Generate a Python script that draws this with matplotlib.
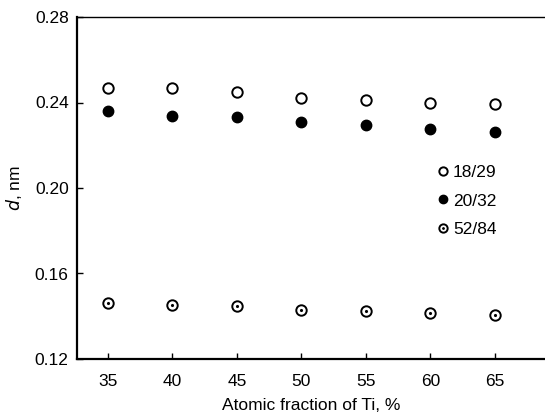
import matplotlib.pyplot as plt
from matplotlib.legend_handler import HandlerTuple

ti_fraction = [35, 40, 45, 50, 55, 60, 65]
d_18_29 = [0.2470, 0.2466, 0.2447, 0.2423, 0.2414, 0.2400, 0.2395]
d_20_32 = [0.2358, 0.2335, 0.2330, 0.2311, 0.2297, 0.2278, 0.2264]
d_52_84 = [0.1462, 0.1453, 0.1448, 0.1429, 0.1425, 0.1415, 0.1406]

x_ticks = [35, 40, 45, 50, 55, 60, 65]
y_ticks = [0.12, 0.16, 0.20, 0.24, 0.28]

plt.rcParams["font.family"] = ["Liberation Sans", "DejaVu Sans"]

fig = plt.figure(figsize=(5.45, 4.12), dpi=100)
ax = fig.add_axes([77 / 545, 1 - 359 / 412, 1 - 77 / 545, (359 - 17) / 412])

ms = 7.5
h1, = ax.plot(ti_fraction, d_18_29, "o", ls="none", mfc="white", mec="black", mew=1.4,
              ms=ms)
h2, = ax.plot(ti_fraction, d_20_32, "o", ls="none", mfc="black", mec="black", ms=ms)
h3, = ax.plot(ti_fraction, d_52_84, "o", ls="none", mfc="white", mec="black", mew=1.4,
              ms=ms)
# centre dots for the 52/84 series
h3d, = ax.plot(ti_fraction, d_52_84, ".", ls="none", color="black", ms=2.5)

ax.set_xlim(32.6, 68.9)
ax.set_ylim(0.12, 0.28)
ax.set_xticks(x_ticks)
ax.set_yticks(y_ticks)
ax.set_yticklabels([f"{v:.2f}" for v in y_ticks])
ax.tick_params(direction="in", length=4, width=1, labelsize=12.5, colors="black")
ax.tick_params(axis="x", pad=11)
ax.tick_params(axis="y", pad=6)

ax.spines["right"].set_visible(False)
ax.spines["left"].set_linewidth(1.6)
ax.spines["bottom"].set_linewidth(1.6)
ax.spines["top"].set_linewidth(1.0)

ax.set_xlabel("Atomic fraction of Ti, %", fontsize=12.5, labelpad=6)
ax.set_ylabel("$d$, nm", fontsize=12.5, labelpad=8)

ax.legend([h1, h2, (h3, h3d)], ["18/29", "20/32", "52/84"],
          handler_map={tuple: HandlerTuple(ndivide=1, pad=0)},
          loc="center left", bbox_to_anchor=(0.748, 0.462),
          frameon=False, fontsize=12.5, handletextpad=0.2, handlelength=0.8,
          labelspacing=0.75, markerscale=0.8, borderpad=0)

fig.savefig("out.png", dpi=100)
